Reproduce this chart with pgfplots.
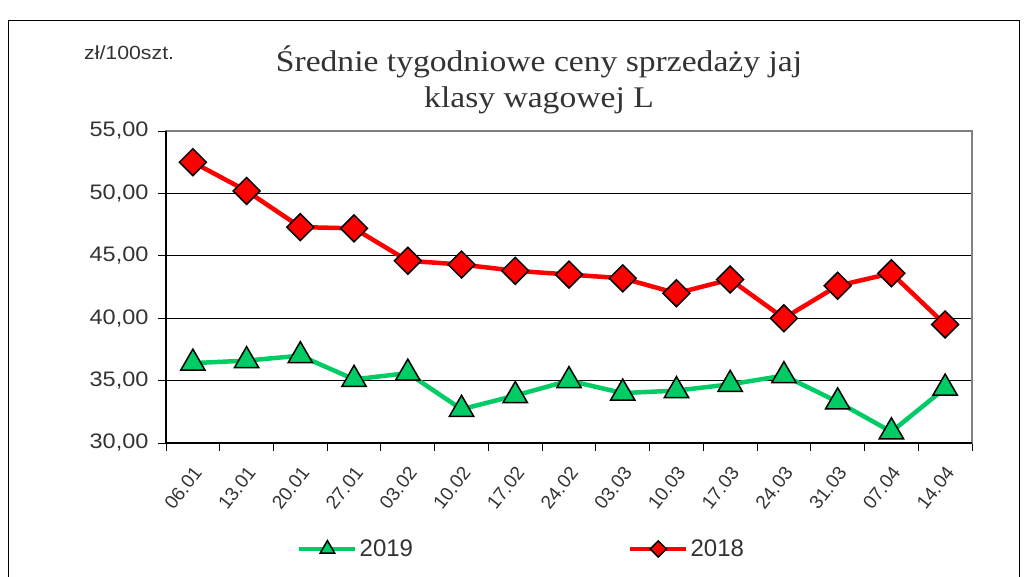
\documentclass[border=0pt]{standalone}
\usepackage{fontspec}
\setmainfont{Liberation Sans}
\newfontfamily\widefont[FakeStretch=1.12]{Liberation Sans}
\newfontfamily\titlefont[FakeStretch=1.12]{Liberation Serif}
\usepackage{pgfplots}
\pgfplotsset{compat=1.18}
\definecolor{grn}{RGB}{0,204,102}
\definecolor{txt}{RGB}{51,51,51}
\begin{document}
\begin{tikzpicture}[x=1pt,y=1pt]
\useasboundingbox (0,0) rectangle (1035,576);
\draw[black, line width=1pt] (8.5,-5) -- (8.5,555.5) -- (1019.5,555.5) -- (1019.5,-5);
\node[anchor=west, font=\widefont\fontsize{19}{22}\selectfont, text=txt, inner sep=0pt] at (84,523) {zł/100szt.};
\node[align=center, font=\titlefont\fontsize{30}{36}\selectfont, text=txt] at (539,496) {Średnie tygodniowe ceny sprzedaży jaj\\klasy wagowej L};
\begin{axis}[
  at={(166pt,133pt)}, anchor=south west, scale only axis,
  width=806pt, height=312pt,
  xmin=-0.5, xmax=14.5, ymin=30, ymax=55,
  ytick={30,35,...,55},
  xtick={0,...,14},
  xticklabels={06.01,13.01,20.01,27.01,03.02,10.02,17.02,24.02,03.03,10.03,17.03,24.03,31.03,07.04,14.04},
  minor xtick={-0.5,0.5,...,14.5},
  major x tick style={draw=none},
  tick align=outside, major tick length=8pt, minor tick length=8pt,
  xtick pos=bottom, ytick pos=left,
  tick style={black, line width=1pt},
  ymajorgrids, grid style={black, line width=0.9pt},
  axis line style={draw=gray, line width=1.2pt},
  ticklabel style={text=txt},
  y tick label style={font=\widefont\fontsize{21}{24}\selectfont, xshift=-6pt},
  x tick label style={font=\fontsize{19}{22}\selectfont, xshift=5pt, yshift=-18pt, rotate=52, anchor=east, inner sep=0pt},
  /pgf/number format/.cd, fixed, fixed zerofill, precision=2, use comma, assume math mode=true,
  /pgfplots/.cd,
  clip=false,
  legend columns=2,
  legend style={at={(0.1625,-0.3397)}, anchor=west, draw=none, fill=none,
    font=\fontsize{24}{28}\selectfont, text=txt, inner sep=0pt,
    /tikz/every even column/.append style={column sep=213pt}},
  legend image code/.code={\draw[mark repeat=2, mark phase=2, #1, every mark/.append style={scale=0.6}] plot coordinates {(0pt,0pt) (28pt,0pt) (56pt,0pt)};},
]
\addplot[color=grn, line width=4.5pt, mark=triangle*, mark size=14pt,
  mark options={solid, fill=grn, draw=black, line width=1.5pt}]
  coordinates {(0,36.4) (1,36.6) (2,37.0) (3,35.1) (4,35.6) (5,32.7) (6,33.8) (7,35.0) (8,34.0) (9,34.2) (10,34.7) (11,35.4) (12,33.3) (13,30.9) (14,34.4)};
\addlegendentry{2019}
\addplot[color=red, line width=4.5pt, mark=square*, mark size=9.5pt,
  mark options={solid, rotate=45, fill=red, draw=black, line width=1.5pt}]
  coordinates {(0,52.5) (1,50.2) (2,47.3) (3,47.2) (4,44.6) (5,44.3) (6,43.8) (7,43.5) (8,43.2) (9,42.0) (10,43.1) (11,40.0) (12,42.6) (13,43.6) (14,39.5)};
\addlegendentry{2018}
\draw[black, line width=1.2pt] (rel axis cs:0,1) -- (rel axis cs:0,0) -- (rel axis cs:1,0);
\end{axis}
\end{tikzpicture}
\end{document}
